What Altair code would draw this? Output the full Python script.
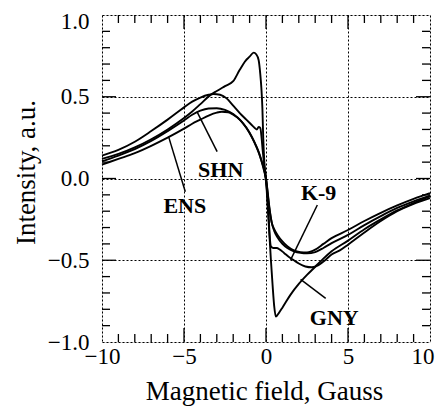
import altair as alt
import pandas as pd

# ---- data ----
k9_x = [-10, -9, -8, -7, -6, -5, -4.5, -4, -3.5, -3.2, -2.8, -2.4, -2, -1.6, -1.2, -0.9, -0.7, -0.55, -0.45,
        -0.35, -0.27, -0.2, -0.12, -0.05, 0, 0.08, 0.16, 0.24, 0.3, 0.45, 0.65, 0.85, 1.1, 1.4, 1.7, 2, 2.4,
        2.8, 3.2, 3.6, 4, 4.5, 5, 6, 7, 8, 9, 10]
k9_y = [0.14, 0.175, 0.225, 0.29, 0.36, 0.435, 0.47, 0.495, 0.512, 0.517, 0.512, 0.49, 0.445, 0.40, 0.36,
        0.33, 0.31, 0.30, 0.315, 0.31, 0.25, 0.17, 0.09, 0.02, -0.02, -0.1, -0.23, -0.37, -0.415, -0.425,
        -0.425, -0.435, -0.455, -0.48, -0.5, -0.52, -0.538, -0.543, -0.53, -0.5, -0.465, -0.44, -0.405,
        -0.33, -0.26, -0.2, -0.155, -0.12]

shn_x = [-10, -9, -8, -7, -6, -5, -4.5, -4, -3.5, -3, -2.5, -2, -1.5, -1, -0.7, -0.45, -0.25, -0.1, 0, 0.1,
         0.2, 0.35, 0.5, 0.7, 1, 1.3, 1.7, 2.1, 2.5, 3, 3.5, 4, 5, 6, 7, 8, 9, 10]
shn_y = [0.105, 0.14, 0.18, 0.23, 0.29, 0.355, 0.39, 0.415, 0.428, 0.43, 0.42, 0.395, 0.35, 0.28, 0.22,
         0.16, 0.10, 0.05, 0.0, -0.09, -0.18, -0.27, -0.31, -0.345, -0.385, -0.415, -0.44, -0.45, -0.452,
         -0.435, -0.40, -0.365, -0.315, -0.26, -0.21, -0.165, -0.125, -0.09]

ens_x = [-10, -9, -8, -7, -6, -5, -4.5, -4, -3.5, -3, -2.7, -2.3, -2, -1.6, -1.2, -0.9, -0.6, -0.4, -0.2,
         -0.1, 0, 0.1, 0.2, 0.35, 0.5, 0.7, 1, 1.3, 1.7, 2.1, 2.5, 3, 3.5, 4, 5, 6, 7, 8, 9, 10]
ens_y = [0.085, 0.12, 0.155, 0.2, 0.25, 0.305, 0.335, 0.36, 0.385, 0.403, 0.408, 0.405, 0.39, 0.36, 0.31,
         0.26, 0.2, 0.15, 0.08, 0.04, 0.0, -0.08, -0.17, -0.27, -0.32, -0.36, -0.4, -0.425, -0.445, -0.455,
         -0.458, -0.45, -0.425, -0.395, -0.345, -0.285, -0.23, -0.18, -0.14, -0.105]

gny_x = [-10, -9, -8, -7, -6, -5, -4.5, -4, -3.4, -3, -2.5, -2, -1.6, -1.25, -1, -0.75, -0.6, -0.45, -0.35,
         -0.28, -0.22, -0.17, -0.1, 0, 0.1, 0.2, 0.3, 0.4, 0.5, 0.6, 0.8, 1, 1.5, 2, 2.5, 3, 3.5, 4, 5, 6,
         7, 8, 9, 10]
gny_y = [0.12, 0.15, 0.19, 0.24, 0.30, 0.37, 0.41, 0.455, 0.51, 0.535, 0.565, 0.595, 0.665, 0.72, 0.745,
         0.77, 0.76, 0.725, 0.64, 0.55, 0.43, 0.25, 0.1, 0.0, -0.17, -0.33, -0.5, -0.65, -0.78, -0.845,
         -0.82, -0.79, -0.71, -0.645, -0.59, -0.54, -0.49, -0.445, -0.38, -0.31, -0.25, -0.195, -0.15, -0.11]

label_names = ["SHN", "ENS", "K-9", "GNY"]
label_x = [-2.76, -4.95, 3.21, 4.16]
label_y = [0.009, -0.211, -0.131, -0.896]

leader_x = [-2.98, -4.92, 3.13, 3.64]
leader_y = [0.164, -0.081, -0.162, -0.733]
leader_x2 = [-4.21, -5.94, 1.50, 2.11]
leader_y2 = [0.409, 0.256, -0.498, -0.617]

x_major = [-5, 0, 5]
x_minor = [-9, -8, -7, -6, -4, -3, -2, -1, 1, 2, 3, 4, 6, 7, 8, 9]
y_major = [-0.5, 0.0, 0.5]
y_minor = [-0.9, -0.8, -0.7, -0.6, -0.4, -0.3, -0.2, -0.1, 0.1, 0.2, 0.3, 0.4, 0.6, 0.7, 0.8, 0.9]

x_labels = [-10, -5, 0, 5, 10]
y_labels = [-1.0, -0.5, 0.0, 0.5, 1.0]

# ---- tables ----
frames = []
for name, xs, ys in [("K-9", k9_x, k9_y), ("SHN", shn_x, shn_y), ("ENS", ens_x, ens_y), ("GNY", gny_x, gny_y)]:
    frames.append(pd.DataFrame({"x": xs, "y": ys, "s": name}))
curves = pd.concat(frames, ignore_index=True)
labels = pd.DataFrame({"x": label_x, "y": label_y, "t": label_names})
leaders = pd.DataFrame({"x": leader_x, "y": leader_y, "x2": leader_x2, "y2": leader_y2})

W, H = 328, 327
FONT = "Liberation Serif"

xscale = alt.Scale(domain=[-10, 10], nice=False, zero=False)
yscale = alt.Scale(domain=[-1, 1], nice=False, zero=False)

xaxis = alt.Axis(values=x_labels, grid=True, gridDash=[2, 2], gridColor="black", gridOpacity=1,
                 gridWidth=1, tickSize=0, ticks=False, domain=False, labelFlush=False, labelOverlap=False,
                 labelFont=FONT, labelFontSize=23, labelColor="black", labelPadding=3,
                 labelAlign={"condition": {"test": "datum.value == 10", "value": "right"}, "value": "center"},
                 labelOffset={"condition": {"test": "datum.value == 10", "value": 4}, "value": 0},
                 title="Magnetic field, Gauss", titleFont=FONT, titleFontSize=27, titleFontWeight="normal",
                 titleColor="black", titleX=162, titleY=57, titleBaseline="alphabetic", titleAlign="center")
yaxis = alt.Axis(values=y_labels, format=".1f", grid=True, gridDash=[2, 2], gridColor="black", gridOpacity=1,
                 gridWidth=1, tickSize=0, ticks=False, domain=False, labelFlush=False, labelOverlap=False,
                 labelFont=FONT, labelFontSize=23, labelColor="black", labelPadding=13,
                 labelOffset={"condition": {"test": "datum.value == 1", "value": 6}, "value": 0},
                 title="Intensity, a.u.", titleFont=FONT, titleFontSize=27, titleFontWeight="normal",
                 titleColor="black", titleX=-76, titleY=157, titleAngle=270, titleBaseline="middle",
                 titleAlign="center")

X = alt.X("x:Q", scale=xscale, axis=xaxis)
Y = alt.Y("y:Q", scale=yscale, axis=yaxis)

lines = alt.Chart(curves).mark_line(color="black", strokeWidth=1.9, interpolate="monotone").encode(
    x=X, y=Y, detail="s:N")

text = alt.Chart(labels).mark_text(font=FONT, fontSize=22, fontWeight="bold", color="black",
                                   baseline="alphabetic", align="center").encode(x=X, y=Y, text="t:N")

lead = alt.Chart(leaders).mark_rule(color="black", strokeWidth=1.5).encode(x=X, y=Y, x2="x2:Q", y2="y2:Q")

def xticks(vals, length):
    d = pd.DataFrame({"x": vals})
    bottom = alt.Chart(d).mark_rule(color="black", strokeWidth=1.3).encode(
        x=X, y=alt.value(H), y2=alt.value(H - length))
    top = alt.Chart(d).mark_rule(color="black", strokeWidth=1.3).encode(
        x=X, y=alt.value(0), y2=alt.value(length))
    return [bottom, top]

def yticks(vals, length):
    d = pd.DataFrame({"y": vals})
    left = alt.Chart(d).mark_rule(color="black", strokeWidth=1.3).encode(
        y=Y, x=alt.value(0), x2=alt.value(length))
    right = alt.Chart(d).mark_rule(color="black", strokeWidth=1.3).encode(
        y=Y, x=alt.value(W), x2=alt.value(W - length))
    return [left, right]

layers = [lines, lead, text] + xticks(x_minor, 8) + xticks(x_major, 14) + yticks(y_minor, 8) + yticks(y_major, 14)

chart = alt.layer(*layers).properties(
    width=W, height=H,
    autosize=alt.AutoSizeParams(type="none"),
    padding={"left": 94, "top": 7, "right": 5, "bottom": 64},
).configure_view(stroke="black", strokeWidth=1.5).configure(background="white")

chart.save("out.html", embed_options={"renderer": "svg", "actions": False})
